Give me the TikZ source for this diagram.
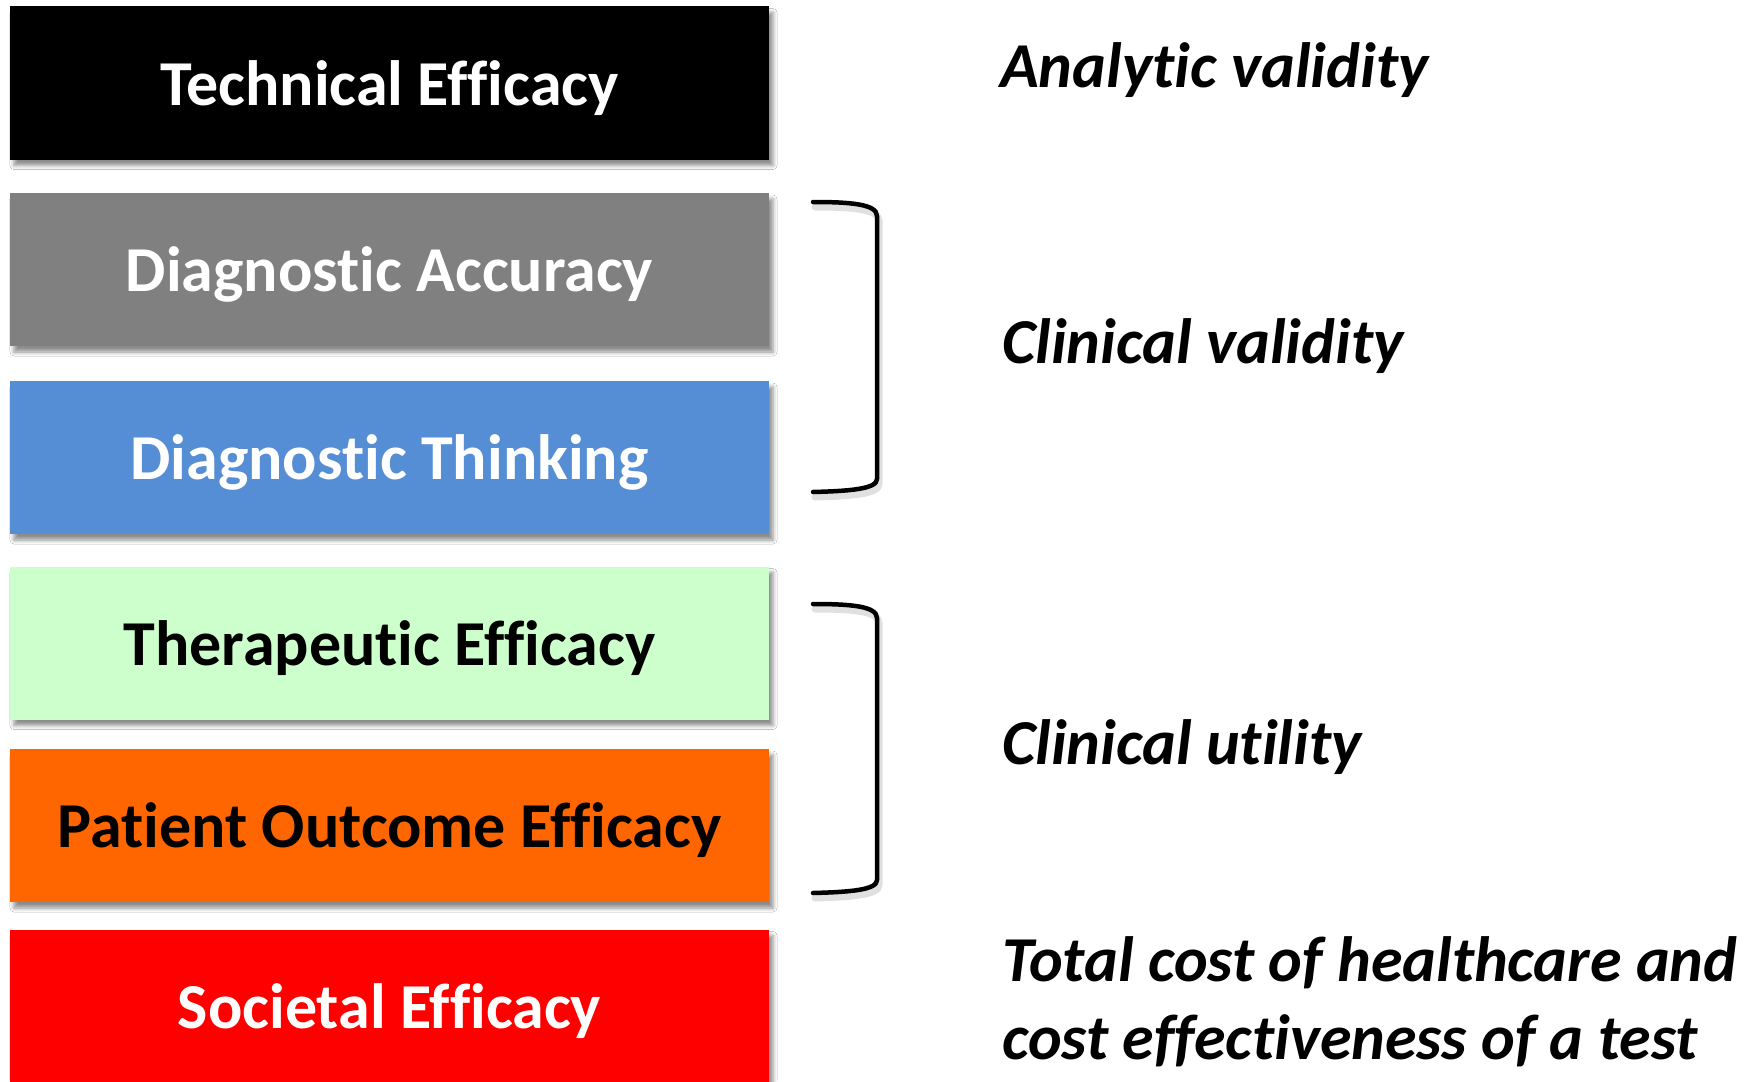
\documentclass[tikz,border=0pt]{standalone}
\usepackage{fontspec}
\setmainfont{Carlito}[Ligatures=NoCommon]
\usetikzlibrary{shadows.blur}

\definecolor{techblack}{HTML}{000000}
\definecolor{accgray}{HTML}{808080}
\definecolor{thinkblue}{HTML}{558ED5}
\definecolor{therapgreen}{HTML}{CCFFCC}
\definecolor{outcomeorange}{HTML}{FF6600}
\definecolor{societalred}{HTML}{FF0000}

\tikzset{
  level/.style={
    draw=none, fill=#1, minimum width=759pt, minimum height=153pt,
    inner sep=0pt, text height=44pt, text depth=0pt,
    font=\fontsize{64}{76}\selectfont\bfseries,
    blur shadow={shadow xshift=4pt, shadow yshift=-6pt,
                 shadow blur radius=4pt, shadow opacity=45}
  },
  sidelabel/.style={
    anchor=base west, inner sep=0pt,
    font=\fontsize{64}{78}\selectfont\bfseries\itshape
  },
  bracketline/.style={line width=4.5pt, line cap=round, line join=round},
  bracketshade/.style={line width=7pt, line cap=round, line join=round,
    draw=black, draw opacity=0.12}
}

\newcommand{\bracketpath}[2]{%
  (813,#1) .. controls (850,#1) and (877,#1+2) .. (877,#1+14)
  -- (877,#2-13) .. controls (877,#2-3) and (850,#2-1) .. (813,#2)}

\begin{document}
\begin{tikzpicture}[x=1pt, y=-1pt]
  \useasboundingbox (0,0) rectangle (1752,1081);
  \fill[white] (0,0) rectangle (1752,1081);

  % the six levels of efficacy
  \node[level=techblack,    text=white] (tech)     at (389.5,83)    {Technical Efficacy};
  \node[level=accgray,      text=white] (accuracy) at (389.5,269.5) {Diagnostic Accuracy};
  \node[level=thinkblue,    text=white] (thinking) at (389.5,457.5) {Diagnostic Thinking};
  \node[level=therapgreen,  text=black] (therapy)  at (389.5,643)   {Therapeutic Efficacy};
  \node[level=outcomeorange,text=black] (outcome)  at (389.5,825.5) {Patient Outcome Efficacy};
  \node[level=societalred,  text=white] (societal) at (389.5,1006)  {Societal Efficacy};

  % brackets grouping the middle levels, each with a soft shade below
  \begin{scope}[shift={(2,5)}]
    \draw[bracketshade] \bracketpath{202}{492};
    \draw[bracketshade] \bracketpath{604}{893};
  \end{scope}
  \draw[bracketline] \bracketpath{202}{492};
  \draw[bracketline] \bracketpath{604}{893};

  % labels on the right
  \node[sidelabel] (analytic) at (1000,87)  {Analytic validity};
  \node[sidelabel] (clinval)  at (1002,363) {Clinical validity};
  \node[sidelabel] (clinutil) at (1002,764) {Clinical utility};
  \node[sidelabel] (cost1)    at (1002,981) {Total cost of healthcare and};
  \node[sidelabel] (cost2)    at (1002,1059) {cost effectiveness of a test};
\end{tikzpicture}
\end{document}
